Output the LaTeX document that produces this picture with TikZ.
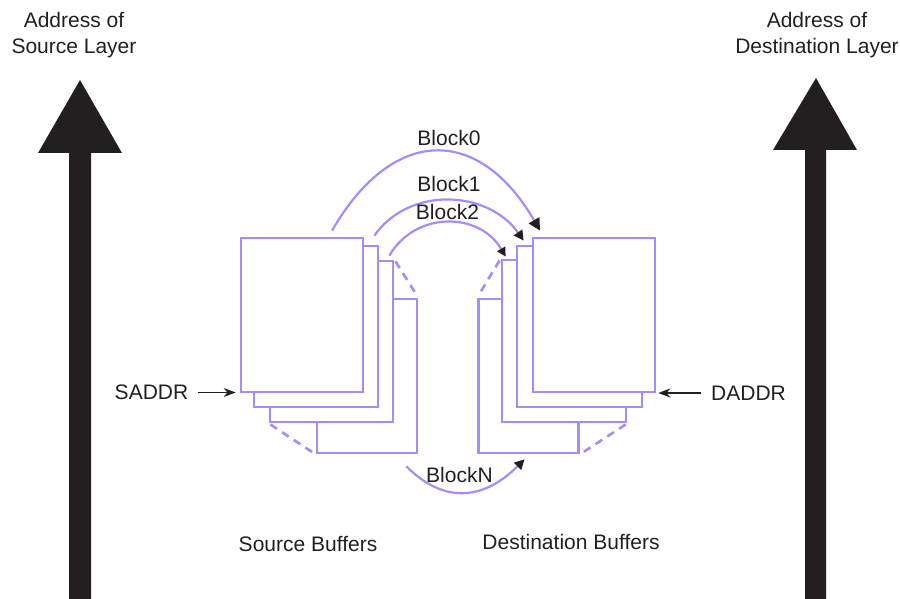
\documentclass[tikz,border=0pt]{standalone}
\usepackage{fontspec}
\setmainfont{Liberation Sans}
\usepackage{xcolor}
\definecolor{bfLilac}{HTML}{A78BFA}
\definecolor{bfInk}{HTML}{231F20}
\usetikzlibrary{positioning,arrows.meta,calc}

\begin{document}
\begin{tikzpicture}[x=0.5pt,y=0.5pt,
      every node/.style={font=\fontsize{10.5}{13}\selectfont,text=bfInk,inner sep=0pt},
      buf/.style n args={2}{rectangle,draw=bfLilac,fill=white,line width=1.35pt,
                            minimum width=#1,minimum height=#2},
      link/.style={draw=bfLilac,line width=1.3pt,dash pattern=on 4pt off 3pt,
                   shorten <=1pt,shorten >=1pt},
      flow/.style={draw=bfLilac,line width=1.1pt,
                   -{Triangle[length=5pt,width=5pt,color=bfInk]}},
      ptr/.style={draw=bfInk,line width=0.7pt,-{Stealth[length=6pt,width=4.5pt]}},
    ]
    \useasboundingbox (0,0) rectangle (900,-599);

    % address axes
    \fill[bfInk] (69,-599) -- (69,-153) -- (38,-153) -- (80,-80) -- (122,-153)
        -- (91,-153) -- (91,-599) -- cycle;
    \fill[bfInk] (805,-599) -- (805,-150) -- (773,-150) -- (816,-78) -- (857,-150)
        -- (826,-150) -- (826,-599) -- cycle;
    \node[align=center] (srcaxis) at (74,-35.5) {Address of\\Source Layer};
    \node[align=center] (dstaxis) at (817,-35.5) {Address of\\Destination Layer};

    % source buffers, back to front
    \node[buf={50pt}{77pt}]     (s3) at (367,-376) {};
    \node[buf={61.5pt}{80.5pt}] (s2) at (331.5,-341.5) {};
    \node[buf={62pt}{80.5pt}]   (s1) at (316,-326.5) {};
    \node[buf={61pt}{77pt}]     (s0) at (302,-315) {};
    \draw[link] (s2.north east) -- (s3.north east);
    \draw[link] (s2.south west) -- (s3.south west);

    % destination buffers, back to front
    \node[buf={50pt}{77pt}]     (d3) at (528.5,-376) {};
    \node[buf={62pt}{81pt}]     (d2) at (564,-341) {};
    \node[buf={62.5pt}{80.5pt}] (d1) at (579.5,-326.5) {};
    \node[buf={61pt}{77pt}]     (d0) at (594,-315) {};
    \draw[link] (d2.north west) -- (d3.north west);
    \draw[link] (d2.south east) -- (d3.south east);

    % block transfers
    \draw[flow,-{Triangle[length=6pt,width=6pt,color=bfInk]}]
        ([shift={(30,6)}]s0.north) to[out=60,in=120,looseness=1.5]
        node[midway,above=2.5pt,xshift=6.5pt] (b0) {Block0} ([shift={(-54,6)}]d0.north);
    \draw[flow] ([shift={(-5,9)}]s1.north east) to[out=55,in=125,looseness=1.05]
        node[midway,above=4pt] (b1) {Block1} ([shift={(8,4)}]d1.north west);
    \draw[flow,-{Triangle[length=4.5pt,width=4.5pt,color=bfInk]}]
        ([shift={(-5,4)}]s2.north east) to[out=60,in=120,looseness=1.14]
        node[midway,above=1pt] (b2) {Block2} ([shift={(5,2)}]d2.north west);
    \draw[flow] ([shift={(-12,-12)}]s3.south east) to[out=-45,in=-135,looseness=1.2]
        node[midway,above=4pt,xshift=-3pt] (bn) {BlockN} ([shift={(-4,-5)}]d3.south);

    % start addresses
    \node (saddr) at (151.5,-392.5) {SADDR};
    \node (daddr) at (748.5,-393) {DADDR};
    \draw[ptr,shorten <=4.5pt,shorten >=2pt] (saddr.east) -- (saddr.east -| s0.west);
    \draw[ptr,line width=1.2pt,shorten <=5pt,shorten >=1pt] (daddr.west) -- (daddr.west -| d0.east);

    \node (srcbuf) at (308,-544.5) {Source Buffers};
    \node (dstbuf) at (571,-541.5) {Destination Buffers};

  \end{tikzpicture}
\end{document}
